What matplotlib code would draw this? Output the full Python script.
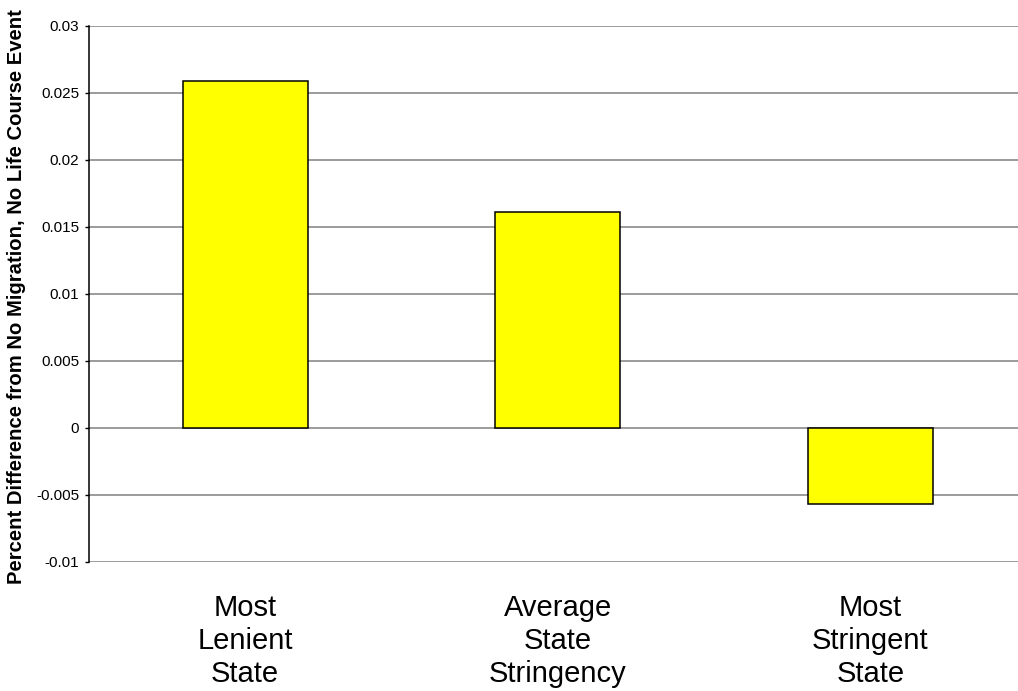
import matplotlib
matplotlib.use("Agg")
import matplotlib.pyplot as plt

# Percent difference by state stringency
categories = ["Most\nLenient\nState", "Average\nState\nStringency", "Most\nStringent\nState"]
values = [0.02585, 0.01612, -0.0057]
yticks = [-0.01, -0.005, 0, 0.005, 0.01, 0.015, 0.02, 0.025, 0.03]
ytick_labels = ["-0.01", "-0.005", "0", "0.005", "0.01", "0.015", "0.02", "0.025", "0.03"]

plt.rcParams["font.family"] = ["Liberation Sans", "DejaVu Sans"]

fig = plt.figure(figsize=(10.18, 6.91), dpi=100)
# plot area runs past the right edge of the figure
ax = fig.add_axes([89 / 1018, 129.3 / 691, 937.5 / 1018, 536 / 691])

ax.set_axisbelow(True)
ax.yaxis.grid(True, color="#808080", linewidth=1.1)
ax.bar(range(len(values)), values, width=0.4, color="#FFFF00",
       edgecolor="black", linewidth=1.1, zorder=3)

ax.set_xlim(-0.5, 2.5)
ax.set_ylim(-0.01, 0.03)
ax.set_yticks(yticks)
ax.set_yticklabels(ytick_labels, fontsize=11)
ax.set_xticks(range(len(categories)))
ax.set_xticklabels(categories, fontsize=21, linespacing=1.24)
ax.tick_params(axis="x", length=0, pad=23)
ax.tick_params(axis="y", length=3, width=1, direction="out", pad=4)

for side in ("top", "right", "bottom"):
    ax.spines[side].set_visible(False)
ax.spines["left"].set_color("black")
ax.spines["left"].set_linewidth(1.1)

ax.set_ylabel("Percent Difference from No Migration, No Life Course Event",
              fontsize=14.6, fontweight="bold")
ax.yaxis.set_label_coords(-63 / 937.5, 0.495)

fig.savefig("out.png", dpi=100)
